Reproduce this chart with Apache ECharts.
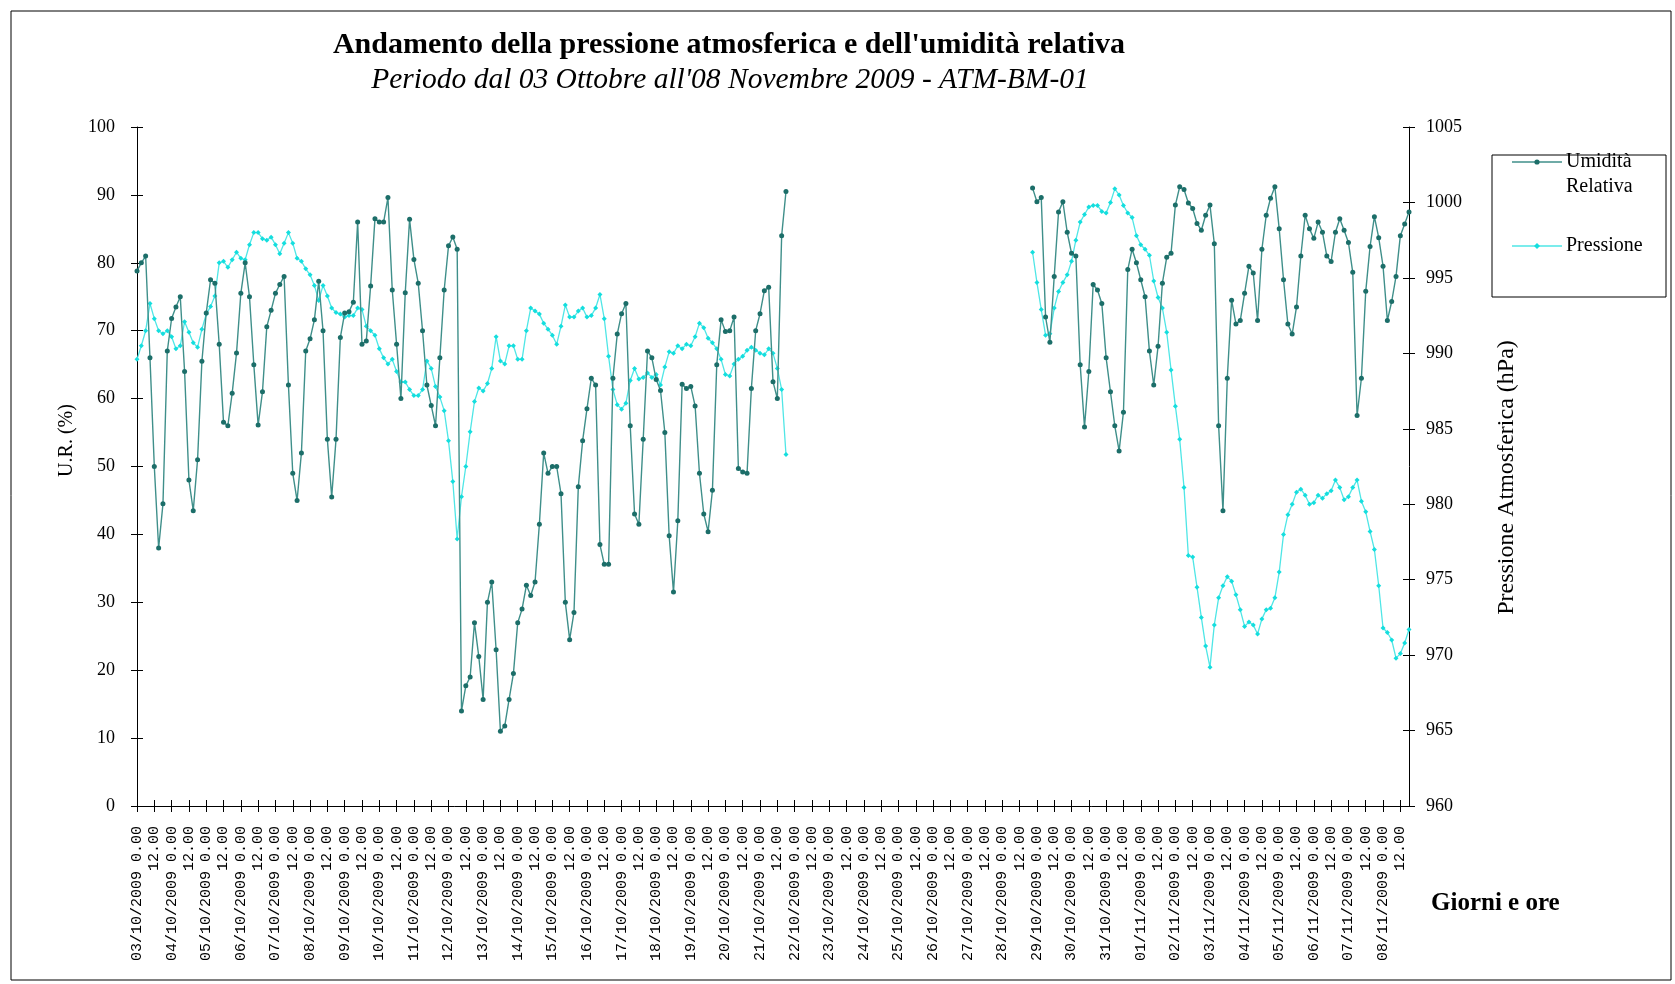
<!DOCTYPE html>
<html lang="it">
<head>
    <meta charset="UTF-8">
    <title>Pressione e umidità</title>
    <script src="https://cdn.jsdelivr.net/npm/echarts@6/dist/echarts.min.js"></script>
    <style>
        body { margin: 0; background: #fff; }
    </style>
</head>
<body>
    <div id="main" style="width:1675px;height:984px;"></div>
    <script type="text/javascript">
        // readings every 3 hours, from 03/10/2009 0.00 to 08/11/2009 18.00
        const stepHours = 3;
        const nSteps = 295;

        // first block: 03/10 0.00 -> 21/10 18.00
        const start1 = 0;
        const umidita1 = [
            78.8, 80, 81, 66, 50, 38, 44.5, 67, 71.8, 73.5, 75, 64, 48, 43.5, 51, 65.5,
            72.6, 77.5, 77, 68, 56.5, 56, 60.8, 66.7, 75.5, 80, 75, 65, 56.1, 61, 70.6, 73,
            75.5, 76.8, 78, 62, 49, 45, 52, 67, 68.8, 71.6, 77.3, 70, 54, 45.5, 54, 69,
            72.6, 72.8, 74.2, 86, 68, 68.5, 76.6, 86.5, 86, 86, 89.6, 76, 68, 60, 75.6, 86.4,
            80.5, 77, 70, 62, 59, 56, 66, 76, 82.5, 83.8, 82, 14, 17.7, 19, 27, 22,
            15.7, 30, 33, 23, 11, 11.8, 15.7, 19.5, 27, 29, 32.5, 31, 33, 41.5, 52, 49,
            50, 50, 46, 30, 24.5, 28.5, 47, 53.8, 58.5, 63, 62, 38.5, 35.6, 35.6, 63, 69.5,
            72.5, 74, 56, 43, 41.5, 54, 67, 66, 62.8, 61.2, 55, 39.8, 31.5, 42, 62.1, 61.5,
            61.8, 58.9, 49, 43, 40.4, 46.5, 65, 71.6, 69.9, 70, 72, 49.7, 49.2, 49, 61.5, 70,
            72.5, 75.9, 76.4, 62.5, 60, 84, 90.5
        ];
        const pressione1 = [
            989.6, 990.5, 991.5, 993.3, 992.3, 991.5, 991.3, 991.5, 991.1, 990.3, 990.5, 992.1, 991.4, 990.7, 990.4, 991.6,
            992.6, 993.1, 993.8, 996, 996.1, 995.7, 996.2, 996.7, 996.3, 996.2, 997.2, 998, 998, 997.6, 997.5, 997.7,
            997.2, 996.6, 997.3, 998, 997.3, 996.3, 996.1, 995.6, 995.2, 994.5, 993.5, 994.5, 993.8, 993, 992.7, 992.6,
            992.4, 992.5, 992.5, 993, 992.9, 991.8, 991.5, 991.2, 990.3, 989.7, 989.3, 989.6, 988.8, 988.1, 988.1, 987.6,
            987.2, 987.2, 987.6, 989.5, 989, 987.8, 987.1, 986.2, 984.2, 981.5, 977.7, 980.5, 982.5, 984.8, 986.8, 987.7,
            987.5, 988, 989, 991.1, 989.5, 989.3, 990.5, 990.5, 989.6, 989.6, 991.5, 993, 992.8, 992.6, 992, 991.6,
            991.2, 990.6, 991.8, 993.2, 992.4, 992.4, 992.8, 993, 992.4, 992.5, 993, 993.9, 992.3, 989.8, 987.6, 986.6,
            986.3, 986.7, 988.2, 989, 988.3, 988.4, 988.7, 988.4, 988.6, 987.9, 989.1, 990.1, 990, 990.5, 990.3, 990.6,
            990.5, 991.1, 992, 991.7, 991, 990.7, 990.3, 989.6, 988.6, 988.5, 989.3, 989.6, 989.8, 990.2, 990.4, 990.2,
            990, 989.9, 990.3, 990, 989, 987.6, 983.3
        ];

        // second block: 28/10 21.00 -> 08/11 18.00
        const start2 = 207;
        const umidita2 = [
            91, 89, 89.6, 72, 68.3, 78, 87.5, 89, 84.5, 81.4, 81, 65, 55.8, 64, 76.8, 76,
            74, 66, 61, 56, 52.3, 58, 79, 82, 80, 77.5, 75, 67, 62, 67.7, 77, 80.8,
            81.4, 88.5, 91.2, 90.8, 88.8, 88, 85.8, 84.8, 87, 88.5, 82.8, 56, 43.5, 63, 74.5, 71,
            71.5, 75.5, 79.5, 78.5, 71.5, 82, 87, 89.5, 91.2, 85, 77.5, 71, 69.5, 73.5, 81, 87,
            85, 83.6, 86, 84.5, 81, 80.2, 84.5, 86.5, 84.8, 83, 78.6, 57.5, 63, 75.8, 82.4, 86.8,
            83.7, 79.5, 71.5, 74.3, 78, 84, 85.7, 87.5
        ];
        const pressione2 = [
            996.7, 994.7, 992.9, 991.2, 991.3, 993, 994.1, 994.7, 995.2, 996.1, 997.5, 998.7, 999.2, 999.7, 999.8, 999.8,
            999.4, 999.3, 1000, 1000.9, 1000.5, 999.8, 999.3, 999, 997.8, 997.2, 996.9, 996.5, 994.8, 993.7, 993, 991.4,
            988.9, 986.5, 984.3, 981.1, 976.6, 976.5, 974.5, 972.5, 970.6, 969.2, 972, 973.8, 974.6, 975.2, 974.9, 974,
            973, 971.9, 972.2, 972, 971.4, 972.4, 973, 973.1, 973.8, 975.5, 978, 979.3, 980, 980.8, 981, 980.6,
            980, 980.1, 980.6, 980.4, 980.7, 980.9, 981.6, 981.1, 980.3, 980.5, 981.1, 981.6, 980.2, 979.5, 978.2, 977,
            974.6, 971.8, 971.5, 971, 969.8, 970.1, 970.8, 971.7
        ];

        const urTicks = { min: 0, max: 100, interval: 10 };
        const hpaTicks = { min: 960, max: 1005, interval: 5 };

        // category labels "dd/mm/2009 h.00"
        function pad(n) { return n < 10 ? '0' + n : '' + n; }
        const categorie = [];
        for (let i = 0; i < nSteps; i++) {
            let day = 3 + Math.floor(i * stepHours / 24);
            let month = 10;
            if (day > 31) { day -= 31; month = 11; }
            const hour = (i * stepHours) % 24;
            categorie.push(pad(day) + '/' + pad(month) + '/2009 ' + hour + '.00');
        }

        function fill(blocks) {
            const out = new Array(nSteps).fill(null);
            blocks.forEach(b => b.values.forEach((v, k) => { out[b.start + k] = v; }));
            return out;
        }
        const umidita = fill([{ start: start1, values: umidita1 }, { start: start2, values: umidita2 }]);
        const pressione = fill([{ start: start1, values: pressione1 }, { start: start2, values: pressione2 }]);

        const serif = 'Liberation Serif, Times New Roman, serif';
        const colUR = '#3f8f8a', colURdot = '#1c6e69';
        const colP = '#4fe6e6', colPdot = '#14dede';

        let myChart = echarts.init(document.getElementById('main'));

        let options = {
            animation: false,
            backgroundColor: '#fff',
            title: [
                {
                    text: "Andamento della pressione atmosferica e dell'umidità relativa",
                    left: 724, top: 25, textAlign: 'center',
                    textStyle: { fontFamily: serif, fontWeight: 'bold', fontSize: 30, color: '#000' }
                },
                {
                    text: "Periodo dal 03 Ottobre all'08 Novembre 2009 - ATM-BM-01",
                    left: 725, top: 60, textAlign: 'center',
                    textStyle: { fontFamily: serif, fontStyle: 'italic', fontWeight: 'normal', fontSize: 29.5, color: '#000' }
                }
            ],
            grid: { left: 137, right: 266, top: 127, bottom: 178, outerBoundsMode: 'none' },
            xAxis: [
                {
                    type: 'category',
                    data: categorie,
                    boundaryGap: false,
                    axisLine: { lineStyle: { color: '#000', width: 1 } },
                    axisTick: { interval: 3, length: 6, lineStyle: { color: '#000' } },
                    axisLabel: {
                        interval: 3, rotate: 90, margin: 20,
                        fontFamily: 'Liberation Mono, DejaVu Sans Mono, monospace', fontSize: 15, color: '#000',
                        formatter: v => v.endsWith(' 0.00') ? v : v.split(' ')[1]
                    },
                    splitLine: { show: false }
                },
                {
                    // inner half of the crossing ticks
                    type: 'category',
                    data: categorie,
                    boundaryGap: false,
                    position: 'bottom',
                    axisLine: { show: false },
                    axisTick: { interval: 3, length: 6, inside: true, lineStyle: { color: '#000' } },
                    axisLabel: { show: false },
                    splitLine: { show: false }
                }
            ],
            yAxis: [
                {
                    type: 'value', position: 'left', ...urTicks,
                    name: 'U.R. (%)', nameLocation: 'middle', nameGap: 58, nameRotate: 90,
                    nameTextStyle: { fontFamily: serif, fontSize: 20, color: '#000', padding: [0, 0, 0, 52] },
                    axisLine: { show: true, lineStyle: { color: '#000' } },
                    axisTick: { show: true, length: 6, lineStyle: { color: '#000' } },
                    axisLabel: { margin: 22, fontFamily: serif, fontSize: 18, color: '#000' },
                    splitLine: { show: false }
                },
                {
                    type: 'value', position: 'right', ...hpaTicks,
                    name: 'Pressione Atmosferica (hPa)', nameLocation: 'middle', nameGap: 86, nameRotate: 90,
                    nameTextStyle: { fontFamily: serif, fontSize: 24, color: '#000', padding: [0, 22, 0, 0] },
                    axisLine: { show: true, lineStyle: { color: '#000' } },
                    axisTick: { show: true, length: 6, lineStyle: { color: '#000' } },
                    axisLabel: { margin: 17, fontFamily: serif, fontSize: 18, color: '#000', formatter: v => String(v) },
                    splitLine: { show: false }
                },
                {
                    type: 'value', position: 'left', ...urTicks,
                    axisLine: { show: false },
                    axisTick: { show: true, inside: true, length: 6, lineStyle: { color: '#000' } },
                    axisLabel: { show: false },
                    splitLine: { show: false }
                },
                {
                    type: 'value', position: 'right', ...hpaTicks,
                    axisLine: { show: false },
                    axisTick: { show: true, inside: true, length: 6, lineStyle: { color: '#000' } },
                    axisLabel: { show: false },
                    splitLine: { show: false }
                }
            ],
            series: [
                {
                    name: 'Pressione',
                    type: 'line',
                    yAxisIndex: 1,
                    data: pressione,
                    connectNulls: false,
                    symbol: 'diamond', symbolSize: 5, showSymbol: true, showAllSymbol: true,
                    lineStyle: { color: colP, width: 1.3 },
                    itemStyle: { color: colPdot },
                    z: 2
                },
                {
                    name: 'Umidità Relativa',
                    type: 'line',
                    yAxisIndex: 0,
                    data: umidita,
                    connectNulls: false,
                    symbol: 'circle', symbolSize: 5, showSymbol: true, showAllSymbol: true,
                    lineStyle: { color: colUR, width: 1.4 },
                    itemStyle: { color: colURdot },
                    z: 3
                }
            ],
            graphic: [
                // outer frame
                { type: 'rect', shape: { x: 11, y: 11, width: 1660, height: 969 }, style: { fill: null, stroke: '#000', lineWidth: 1 }, silent: true },
                // legend box
                { type: 'rect', shape: { x: 1492, y: 155, width: 174, height: 142 }, style: { fill: '#fff', stroke: '#000', lineWidth: 1 } },
                { type: 'line', shape: { x1: 1512, y1: 162, x2: 1562, y2: 162 }, style: { stroke: colUR, lineWidth: 1.4 } },
                { type: 'circle', shape: { cx: 1537, cy: 162, r: 2.6 }, style: { fill: colURdot } },
                { type: 'text', x: 1566, y: 162, style: { text: 'Umidità', font: '20px ' + serif, fill: '#000', verticalAlign: 'middle' } },
                { type: 'text', x: 1566, y: 187, style: { text: 'Relativa', font: '20px ' + serif, fill: '#000', verticalAlign: 'middle' } },
                { type: 'line', shape: { x1: 1512, y1: 246, x2: 1562, y2: 246 }, style: { stroke: colP, lineWidth: 1.3 } },
                { type: 'polygon', shape: { points: [[1537, 243], [1540, 246], [1537, 249], [1534, 246]] }, style: { fill: colPdot } },
                { type: 'text', x: 1566, y: 246, style: { text: 'Pressione', font: '20px ' + serif, fill: '#000', verticalAlign: 'middle' } },
                // x axis caption
                { type: 'text', x: 1431, y: 904, style: { text: 'Giorni e ore', font: 'bold 25px ' + serif, fill: '#000', verticalAlign: 'middle' } }
            ]
        };

        myChart.setOption(options);
    </script>
</body>
</html>
